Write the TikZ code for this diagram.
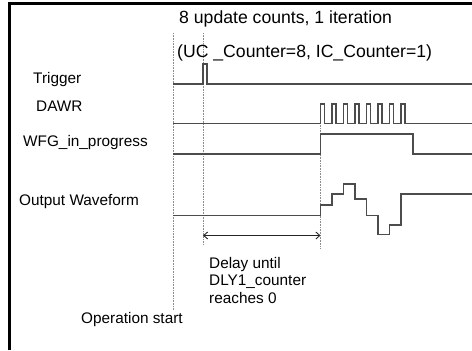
\documentclass[tikz,border=0pt]{standalone}
\usepackage{fontspec}
\setmainfont{Liberation Sans}
\usetikzlibrary{arrows.meta}
\begin{document}
\begin{tikzpicture}[x=1bp,y=-1bp,
  lbl/.style={font=\fontsize{15.4}{17.5}\selectfont, inner sep=0pt, anchor=west},
  ttl/.style={font=\fontsize{17.7}{20}\selectfont, inner sep=0pt, anchor=west},
  wave/.style={line width=1.1bp, draw=black!70, line join=miter},
  guide/.style={draw=black!45, line width=0.6bp, densely dotted},
  frameline/.style={line width=3bp, draw=black},
  dim/.style={line width=0.9bp, draw=black!85, {Straight Barb[length=4bp,width=7bp]}-{Straight Barb[length=4bp,width=7bp]}}]
\useasboundingbox (0,0) rectangle (472,350);
\draw[frameline] (9.5,350) -- (9.5,3.5) -- (472,3.5);

% titles
\node[ttl] (t1) at (179,19) {8 update counts, 1 iteration};
\node[ttl] (t2) at (177,53) {(UC \_Counter=8, IC\_Counter=1)};

% signal labels
\node[lbl] (lTrig) at (33,80) {Trigger};
\node[lbl] (lDawr) at (36,106) {DAWR};
\node[lbl] (lWfg) at (23,143) {WFG\_in\_progress};
\node[lbl] (lOut) at (19,202) {Output Waveform};
\node[lbl] (lOp) at (81,320) {Operation start};
\node[lbl, align=left] (lDelay) at (209,280.5) {Delay until\\DLY1\_counter\\reaches 0};

% guides
\draw[guide] (173,33) -- (173,310);
\draw[guide] (203,33) -- (203,245);
\draw[guide] (320.5,104) -- (320.5,248);

% Trigger
\draw[wave] (173,84) -- (203,84) -- (203,64) -- (207,64) -- (207,84) -- (472,84);
% DAWR
\draw[wave] (173,123.5)
  \foreach \i in {0,...,7} {
    -- ({320.5+11.5*\i},123.5) -- ({320.5+11.5*\i},104)
    -- ({324.5+11.5*\i},104) -- ({324.5+11.5*\i},123.5) }
  -- (472,123.5);
% WFG_in_progress
\draw[wave] (173,154) -- (320.5,154) -- (320.5,134) -- (413,134) -- (413,154) -- (472,154);
% Output waveform
\draw[wave] (173,215.5) -- (320.5,215.5) -- (320.5,205) -- (332,205) -- (332,194)
  -- (343.5,194) -- (343.5,184) -- (355,184) -- (355,199) -- (366.5,199)
  -- (366.5,215.5) -- (378,215.5) -- (378,234.5) -- (389.5,234.5) -- (389.5,225)
  -- (401,225) -- (401,194) -- (472,194);

% delay dimension
\coordinate (dA) at (203,235.5);
\coordinate (dB) at (320.5,235.5);
\draw[dim] (dA) -- (dB);
\end{tikzpicture}
\end{document}
